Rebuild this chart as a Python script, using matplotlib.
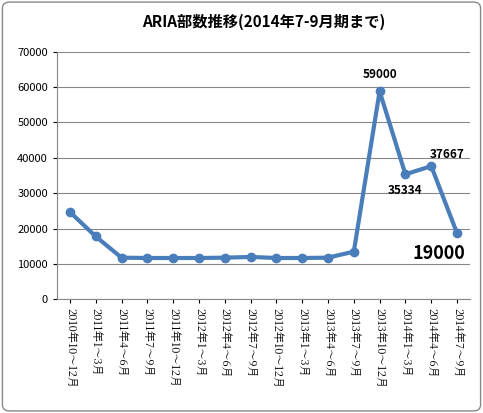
import matplotlib
matplotlib.use("Agg")
import matplotlib.pyplot as plt
from matplotlib.patches import FancyBboxPatch

plt.rcParams['font.family'] = ['Noto Sans CJK JP', 'DejaVu Sans']

categories = ["2010年10～12月", "2011年1～3月", "2011年4～6月", "2011年7～9月",
              "2011年10～12月", "2012年1～3月", "2012年4～6月", "2012年7～9月",
              "2012年10～12月", "2013年1～3月", "2013年4～6月", "2013年7～9月",
              "2013年10～12月", "2014年1～3月", "2014年4～6月", "2014年7～9月"]
values = [24700, 17800, 11800, 11700, 11700, 11700, 11800, 12000,
          11700, 11700, 11800, 13500, 58800, 35334, 37667, 18700]
annotations = {12: "59000", 13: "35334", 14: "37667"}

fig = plt.figure(figsize=(4.83, 4.13), dpi=100)
fig.patches.append(FancyBboxPatch((0.005, 0.005), 0.99, 0.99, boxstyle="round,pad=0,rounding_size=0.015",
                                  transform=fig.transFigure, fill=False, edgecolor="#888888", lw=1))
ax = fig.add_axes([0.118, 0.275, 0.855, 0.6])
x = list(range(len(categories)))
ax.plot(x, values, color="#4a7ebb", lw=3, marker="o", markersize=6)
ax.set_ylim(0, 70000)
ax.set_yticks(range(0, 70001, 10000))
ax.set_xlim(-0.5, len(categories) - 0.5)
ax.set_xticks(x)
ax.set_xticklabels(categories, rotation=270, fontsize=8, family=['Noto Serif CJK JP', 'Noto Sans CJK JP', 'DejaVu Sans'])
ax.tick_params(axis='y', labelsize=8, length=3)
ax.tick_params(axis='x', length=3)
ax.grid(axis='y', color="#888888", lw=0.8)
ax.set_axisbelow(True)
for s in ['top', 'right']:
    ax.spines[s].set_visible(False)
for s in ['left', 'bottom']:
    ax.spines[s].set_color("#888888")

ax.text(12, 62500, annotations[12], ha='center', fontsize=8.5, fontweight='bold')
ax.text(13, 29800, annotations[13], ha='center', fontsize=8.5, fontweight='bold')
ax.text(14.6, 40000, annotations[14], ha='center', fontsize=8.5, fontweight='bold')
ax.text(14.3, 11500, "19000", ha='center', fontsize=13, fontweight='bold')

fig.text(0.545, 0.935, "ARIA部数推移(2014年7-9月期まで)", ha='center', fontsize=11, fontweight='bold')
fig.savefig("out.png", dpi=100)
